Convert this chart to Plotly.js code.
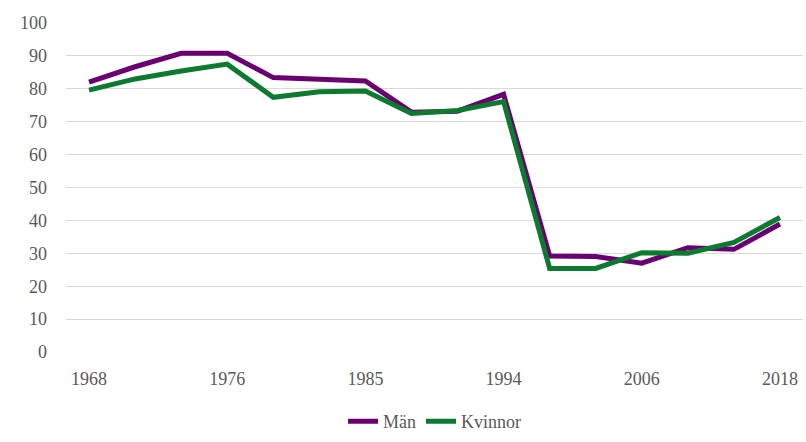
<!DOCTYPE html>
<html>
<head>
<meta charset="utf-8">
<script src="https://cdn.plot.ly/plotly-3.0.1.min.js"></script>
<style>html,body{margin:0;padding:0;background:#fff;}#chart{width:806px;height:442px;}</style>
</head>
<body>
<div id="chart"></div>
<script>
const years = ["1968","1970","1973","1976","1979","1982","1985","1988","1991","1994","1998","2002","2006","2010","2014","2018"];
const tickYears = ["1968","1976","1985","1994","2006","2018"];
const man = [82.0, 86.7, 90.8, 90.8, 83.4, 83.0, 82.4, 72.9, 73.2, 78.3, 29.2, 29.0, 27.0, 31.7, 31.2, 38.9];
const kvinnor = [79.6, 83.0, 85.4, 87.5, 77.4, 79.1, 79.3, 72.5, 73.4, 76.1, 25.4, 25.4, 30.2, 30.0, 33.3, 40.9];

const font = {family: "'Liberation Serif', 'Times New Roman', serif", size: 18, color: "#595959"};

const traces = [
  {x: years, y: man, name: "Män", type: "scatter", mode: "lines",
   line: {color: "#6b0072", width: 5}},
  {x: years, y: kvinnor, name: "Kvinnor", type: "scatter", mode: "lines",
   line: {color: "#0c7a2f", width: 5}}
];

const layout = {
  width: 806, height: 442,
  margin: {l: 66, r: 3, t: 23, b: 90, autoexpand: false},
  paper_bgcolor: "#ffffff", plot_bgcolor: "#ffffff",
  font: font,
  showlegend: true,
  legend: {orientation: "h", x: 0.5, xanchor: "center", y: -0.268, yanchor: "bottom",
           font: font, itemwidth: 30, tracegroupgap: 0},
  xaxis: {type: "category", range: [-0.5, 15.5], tickmode: "array", tickvals: tickYears,
          ticktext: tickYears, showgrid: false, zeroline: false, showline: false,
          ticks: "", ticklabelstandoff: 14, tickfont: font, fixedrange: true, automargin: false},
  yaxis: {range: [0, 100], dtick: 10, tick0: 0, showgrid: true, gridcolor: "#d9d9d9",
          gridwidth: 1, zeroline: false, showline: false, ticks: "",
          ticklabelstandoff: 18, tickfont: font, fixedrange: true, automargin: false},
  hovermode: false
};

Plotly.newPlot("chart", traces, layout, {displayModeBar: false, staticPlot: true});
</script>
</body>
</html>
